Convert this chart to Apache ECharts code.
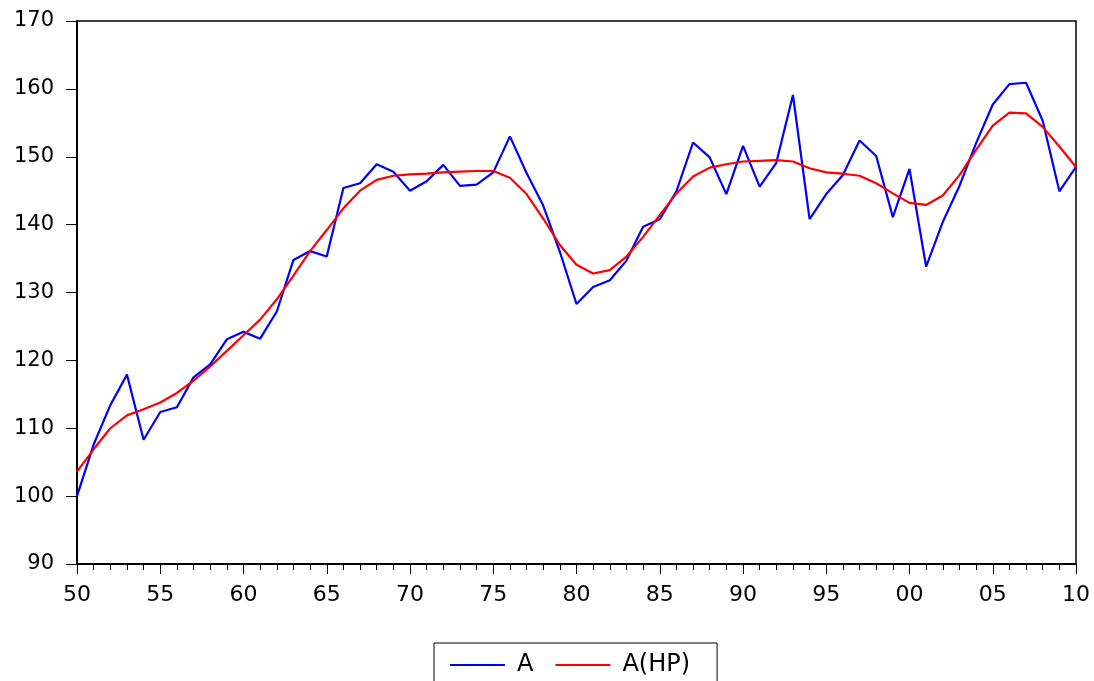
<!DOCTYPE html>
<html>
<head>
<meta charset="utf-8">
<script src="https://cdn.jsdelivr.net/npm/echarts@6/dist/echarts.min.js"></script>
<style>
  html, body { margin: 0; padding: 0; background: #fff; }
  #main { width: 1094px; height: 681px; }
</style>
</head>
<body>
<div id="main"></div>
<script>
// years 1950..2010
var years = [];
for (var y = 1950; y <= 2010; y++) years.push(y);

var seriesA = [
  100.0, 107.6, 113.4, 117.9, 108.3, 112.4, 113.1, 117.5, 119.4, 123.1,
  124.2, 123.2, 127.2, 134.8, 136.1, 135.3, 145.4, 146.1, 148.9, 147.8,
  145.0, 146.4, 148.8, 145.7, 145.9, 147.7, 153.0, 147.6, 142.8, 136.0,
  128.3, 130.8, 131.8, 134.7, 139.7, 140.8, 144.9, 152.1, 149.9, 144.5,
  151.6, 145.6, 149.1, 159.1, 140.8, 144.5, 147.3, 152.4, 150.1, 141.1,
  148.2, 133.8, 140.4, 145.7, 152.0, 157.7, 160.7, 160.9, 155.3, 144.9,
  148.5
];

var seriesHP = [
  103.6, 106.9, 110.0, 111.9, 112.8, 113.8, 115.2, 117.0, 119.1, 121.4,
  123.7, 126.0, 129.0, 132.5, 136.1, 139.2, 142.4, 145.0, 146.6, 147.2,
  147.4, 147.5, 147.7, 147.8, 147.9, 147.9, 146.9, 144.5, 140.9, 137.0,
  134.1, 132.8, 133.3, 135.3, 138.2, 141.4, 144.6, 147.1, 148.4, 148.9,
  149.3, 149.4, 149.5, 149.3, 148.3, 147.7, 147.5, 147.2, 146.1, 144.6,
  143.2, 142.9, 144.3, 147.3, 151.0, 154.6, 156.5, 156.4, 154.4, 151.5,
  148.5
];

var yTicks = [90, 100, 110, 120, 130, 140, 150, 160, 170];

function pairs(vals) {
  return years.map(function (yr, i) { return [yr, vals[i]]; });
}

var FONT = '"DejaVu Sans", "Liberation Sans", Arial, sans-serif';
var myChart = echarts.init(document.getElementById('main'));
var option = {
  animation: false,
  backgroundColor: '#fff',
  grid: {
    left: 77, right: 18, top: 21, bottom: 117,
    show: true, borderColor: '#000', borderWidth: 1.5
  },
  legend: {
    left: 434, top: 643,
    data: [{ name: 'A', icon: 'rect' }, { name: 'A(HP)', icon: 'rect' }],
    borderColor: '#000', borderWidth: 1,
    padding: [9, 27, 20, 16],
    itemWidth: 55, itemHeight: 2, itemGap: 22,
    textStyle: {
      fontFamily: FONT, fontSize: 24, color: '#000',
      lineHeight: 26, padding: [0, 0, 0, 7]
    }
  },
  xAxis: {
    type: 'value',
    min: 1950, max: 2010, interval: 5,
    axisLine: { lineStyle: { color: '#000', width: 2 } },
    axisTick: { length: 10, lineStyle: { color: '#000', width: 1 } },
    minorTick: { show: true, splitNumber: 5, length: 6, lineStyle: { color: '#000', width: 1 } },
    splitLine: { show: false },
    axisLabel: {
      fontFamily: FONT, fontSize: 22, color: '#000', margin: 20,
      showMinLabel: true, showMaxLabel: true,
      formatter: function (v) {
        return String(v % 100).padStart(2, '0');
      }
    }
  },
  yAxis: {
    type: 'value',
    min: yTicks[0], max: yTicks[yTicks.length - 1], interval: 10,
    axisLine: { show: true, lineStyle: { color: '#000', width: 2 } },
    axisTick: { show: true, length: 11, lineStyle: { color: '#000', width: 1 } },
    splitLine: { show: false },
    axisLabel: { fontFamily: FONT, fontSize: 21, color: '#000', margin: 23 }
  },
  series: [
    {
      name: 'A', type: 'line', data: pairs(seriesA),
      symbol: 'none', color: '#0000ff',
      lineStyle: { color: '#0000ff', width: 2.2 }
    },
    {
      name: 'A(HP)', type: 'line', data: pairs(seriesHP),
      symbol: 'none', color: '#ff0000',
      lineStyle: { color: '#ff0000', width: 2.2 }
    }
  ]
};
myChart.setOption(option);
</script>
</body>
</html>
